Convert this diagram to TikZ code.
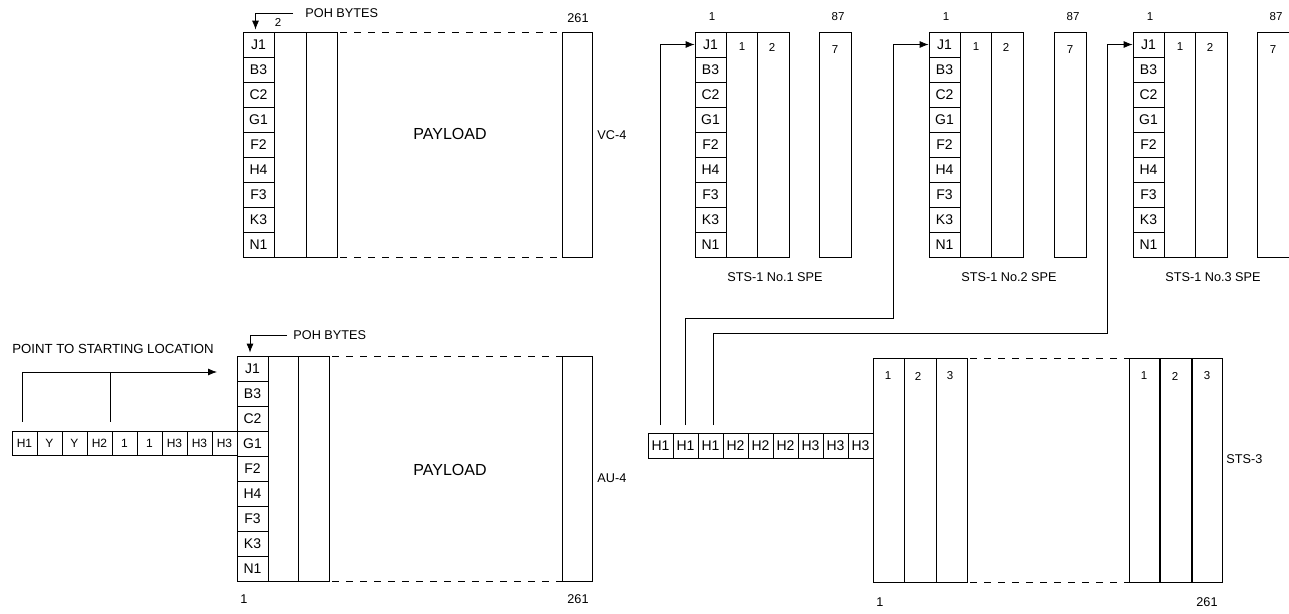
\documentclass[tikz,border=0pt]{standalone}
\usepackage{fontspec}
\setmainfont{Liberation Sans}
\usetikzlibrary{positioning, arrows.meta}

\begin{document}
\begin{tikzpicture}[x=1pt, y=-1pt, >={Latex[length=9pt, width=7pt]}, line width=0.8pt,
	every node/.style={inner sep=0pt},
	cell/.style={draw, minimum width=31pt, minimum height=25pt, font=\fontsize{14}{14}\selectfont},
	hcell/.style={draw, outer sep=0pt, minimum width=25pt, minimum height=24pt, font=\fontsize{12}{12}\selectfont},
	lbl/.style={font=\fontsize{12.7}{12.7}\selectfont},
	num/.style={font=\fontsize{11.5}{11.5}\selectfont},
	big/.style={font=\fontsize{16}{16}\selectfont},
	gap/.style={dash pattern=on 7pt off 7pt}]
	\useasboundingbox (0,0) rectangle (1289,613);

	% 1. VC-4 (top left)
	\foreach \lab [count=\i] in {J1,B3,C2,G1,F2,H4,F3,K3,N1}
		\node[cell] (vc\i) at (258.5, {19.5+25*\i}) {\lab};
	\draw (274,32) rectangle (306,257);
	\draw (306,32) rectangle (337,257);
	\draw[gap] (340,32) -- (562,32);
	\draw[gap] (340,257) -- (562,257);
	\draw (562,32) rectangle (592,257);
	\node[lbl] (vcend) at (578,18) {261};
	\node[lbl, anchor=west] (vcname) at (597,135) {VC-4};
	\node[big] (vcpay) at (450,134) {PAYLOAD};
	\node[num] (vctwo) at (278,22) {2};
	\node[lbl, anchor=west] (vcpoh) at (305,13) {POH BYTES};
	\draw[->] ([xshift=-12pt]vcpoh.west) -| ([xshift=-3pt, yshift=2pt]vc1.north);

	% 2. AU-4 with the pointer bytes
	\foreach \lab [count=\i] in {J1,B3,C2,G1,F2,H4,F3,K3,N1}
		\node[cell] (au\i) at (252.5, {343.5+25*\i}) {\lab};
	\draw (268,356) rectangle (298,581);
	\draw (298,356) rectangle (329,581);
	\draw[gap] (332,356) -- (562,356);
	\draw[gap] (332,581) -- (562,581);
	\draw (562,356) rectangle (592,581);
	\node[lbl] (auone) at (244,599) {1};
	\node[lbl] (auend) at (578,599) {261};
	\node[lbl, anchor=west] (auname) at (597,478) {AU-4};
	\node[big] (aupay) at (450,470) {PAYLOAD};
	\node[lbl, anchor=west] (aupoh) at (293,335) {POH BYTES};
	\draw[->] ([xshift=-6pt]aupoh.west) -| ([xshift=-2.5pt, yshift=3pt]au1.north);

	\node[hcell] (lp1) at (24.5,443.5) {H1};
	\foreach \lab [count=\i from 2] in {Y,Y,H2,1,1,H3,H3,H3} {
		\pgfmathtruncatemacro{\j}{\i-1}
		\node[hcell, right=0pt of lp\j] (lp\i) {\lab};
	}
	\node[lbl, font=\fontsize{13.2}{13.2}\selectfont] (ptrtext) at (113,349) {POINT TO STARTING LOCATION};
	\coordinate (ptrtip) at (217,372);
	\draw[->] ([xshift=-2pt, yshift=10pt]lp1.north) |- (ptrtip);
	\draw ([xshift=10.5pt, yshift=10pt]lp4.north) -- ([xshift=10.5pt]lp4.north |- ptrtip);

	% 3. STS-1 SPEs
	\foreach \k/\bx/\rx in {1/695/819, 2/929/1054, 3/1133/1257} {
		\foreach \lab [count=\i] in {J1,B3,C2,G1,F2,H4,F3,K3,N1}
			\node[cell] (s\k-\i) at ({\bx+15.5}, {19.5+25*\i}) {\lab};
		\draw ({\bx+31},32) rectangle ({\bx+62},257);
		\draw ({\bx+62},32) rectangle ({\bx+94},257);
		\draw (\rx,32) rectangle ({\rx+32},257);
		\node[num] (s\k-a) at ({\bx+47},47) {1};
		\node[num] (s\k-b) at ({\bx+77},47) {2};
		\node[num] (s\k-c) at ({\rx+16},50) {7};
		\node[num] (s\k-first) at ({\bx+17},17) {1};
		\node[num] (s\k-last) at ({\rx+19},17) {87};
		\node[lbl] (s\k-name) at ({\bx+80},277) {STS-1 No.\k\ SPE};
	}

	% 4. STS-3
	\node[hcell, minimum height=25pt, font=\fontsize{14}{14}\selectfont] (rh1) at (660.5,445.5) {H1};
	\foreach \lab [count=\i from 2] in {H1,H1,H2,H2,H2,H3,H3,H3} {
		\pgfmathtruncatemacro{\j}{\i-1}
		\node[hcell, minimum height=25pt, font=\fontsize{14}{14}\selectfont, right=0pt of rh\j] (rh\i) {\lab};
	}
	\draw (873,358) rectangle (904,582);
	\draw (904,358) rectangle (936,582);
	\draw (936,358) rectangle (967,582);
	\draw[gap] (970,358) -- (1129,358);
	\draw[gap] (970,582) -- (1129,582);
	\draw (1129,358) rectangle (1222,582);
	\draw[line width=1.6pt] (1160,358) -- (1160,582);
	\draw[line width=1.6pt] (1192,358) -- (1192,582);
	\foreach \t/\x in {1/888, 2/918, 3/950, 1/1144, 2/1175, 3/1207}
		\node[num] at (\x,376) {\t};
	\node[lbl] (stsone) at (880,602) {1};
	\node[lbl] (stsend) at (1207,602) {261};
	\node[lbl, anchor=west] (stsname) at (1226,459) {STS-3};

	% 5. pointers to the three J1 bytes
	\coordinate (turnb) at (893,318);
	\coordinate (turnc) at (1107,333);
	\draw[->] ([yshift=8pt]rh1.north) |- (s1-1.west);
	\draw[->] ([yshift=8pt]rh2.north) |- (turnb) |- (s2-1.west);
	\draw[->] ([xshift=3pt, yshift=8pt]rh3.north) |- (turnc) |- (s3-1.west);
\end{tikzpicture}
\end{document}
